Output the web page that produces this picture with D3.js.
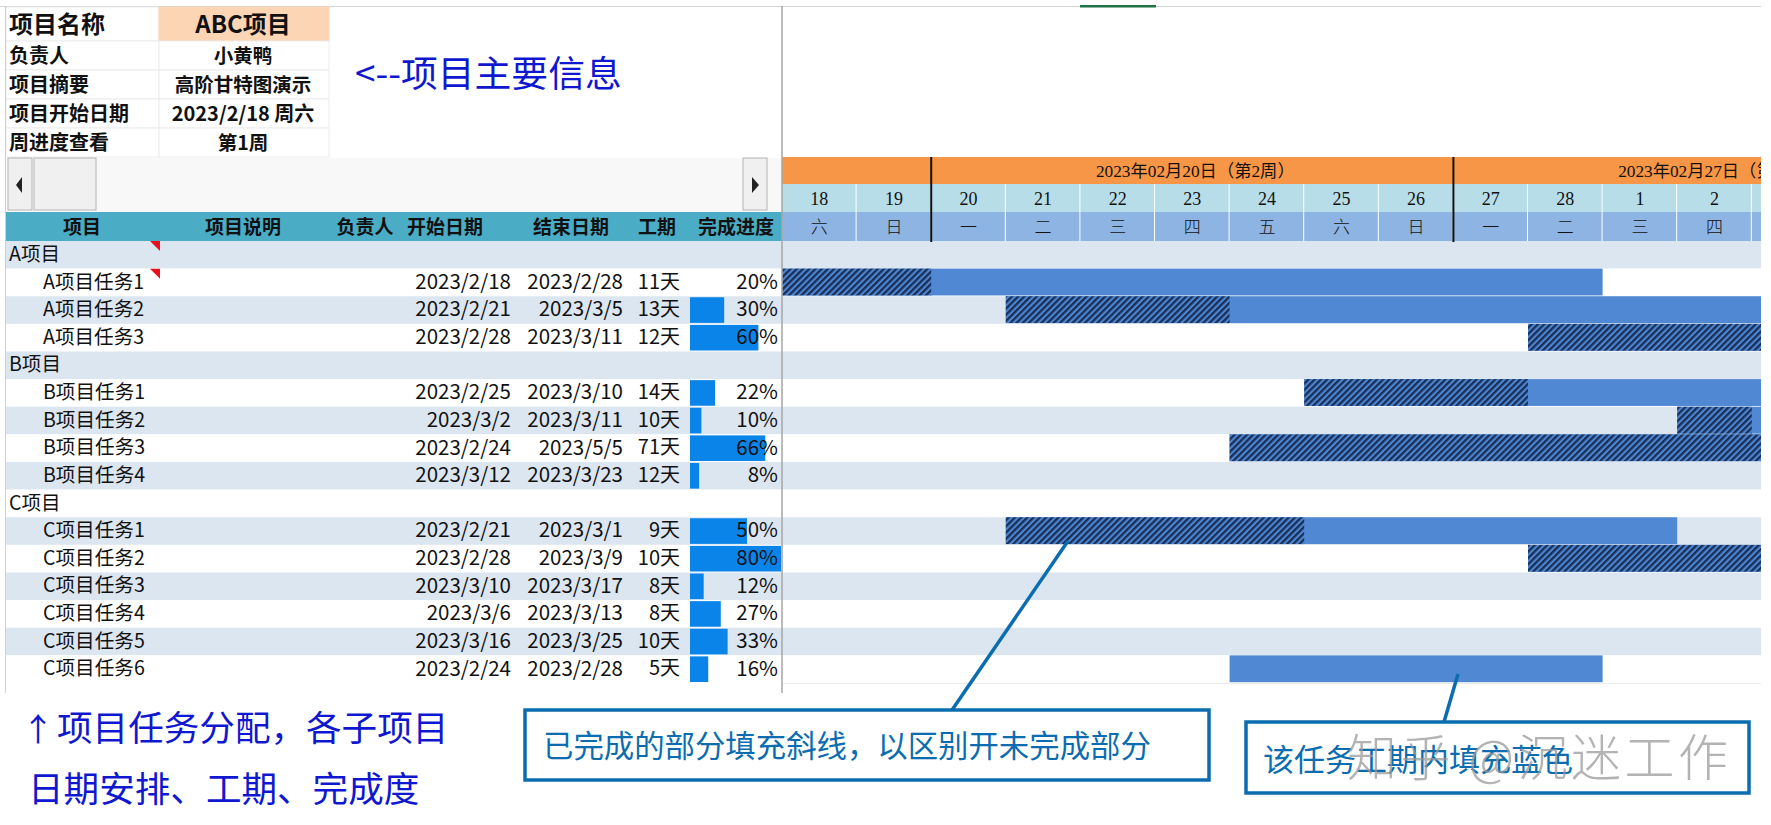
<!DOCTYPE html>
<html>
<head>
<meta charset="utf-8">
<script src="https://cdn.jsdelivr.net/npm/d3@7"></script>
<style>
  body { margin: 0; background: #fff; }
  text { font-family: "Noto Sans CJK SC", "Noto Sans", sans-serif; fill: #111; }
  .serif { font-family: "Liberation Serif", "Noto Sans CJK SC", serif; }
</style>
</head>
<body>
<div id="chart-area"></div>
<script>
var infoLabels = ["项目名称", "负责人", "项目摘要", "项目开始日期", "周进度查看"];
var infoValues = ["ABC项目", "小黄鸭", "高阶甘特图演示", "2023/2/18 周六", "第1周"];

var columnNames = ["项目", "项目说明", "负责人", "开始日期", "结束日期", "工期", "完成进度"];

var rowNames = ["A项目", "A项目任务1", "A项目任务2", "A项目任务3", "B项目", "B项目任务1", "B项目任务2", "B项目任务3", "B项目任务4",
    "C项目", "C项目任务1", "C项目任务2", "C项目任务3", "C项目任务4", "C项目任务5", "C项目任务6"];
var startDates = [null, "2023/2/18", "2023/2/21", "2023/2/28", null, "2023/2/25", "2023/3/2", "2023/2/24", "2023/3/12",
    null, "2023/2/21", "2023/2/28", "2023/3/10", "2023/3/6", "2023/3/16", "2023/2/24"];
var endDates = [null, "2023/2/28", "2023/3/5", "2023/3/11", null, "2023/3/10", "2023/3/11", "2023/5/5", "2023/3/23",
    null, "2023/3/1", "2023/3/9", "2023/3/17", "2023/3/13", "2023/3/25", "2023/2/28"];
var durations = [null, 11, 13, 12, null, 14, 10, 71, 12, null, 9, 10, 8, 8, 10, 5];
var progress = [null, 20, 30, 60, null, 22, 10, 66, 8, null, 50, 80, 12, 27, 33, 16];
var barProgress = [0, 0, 30, 60, 0, 22, 10, 66, 8, 0, 50, 80, 12, 27, 33, 16];
var doneDays = [0, 2, 3, 7, 0, 3, 1, 46, 0, 0, 4, 8, 0, 2, 3, 0];

var dayLabels = ["18", "19", "20", "21", "22", "23", "24", "25", "26", "27", "28", "1", "2", "3"];
var weekLabels = ["六", "日", "一", "二", "三", "四", "五", "六", "日", "一", "二", "三", "四", "五"];
var weekStarts = ["2023/2/20", "2023/2/27"];
var weekTitles = ["2023年02月20日（第2周）", "2023年02月27日（第3周）"];

var width = 1771, height = 825;
var left = 6, split = 782, right = 1761;

var svg = d3.select("#chart-area")
    .append("svg")
        .attr("width", width)
        .attr("height", height)
        .style("display", "block");

var parse = function(s) {
    var p = s.split("/");
    return new Date(Date.UTC(+p[0], +p[1] - 1, +p[2]));
};
var addDays = function(d, n) {
    return new Date(d.getTime() + n * 86400000);
};

var x = d3.scaleUtc()
    .domain([parse("2023/2/18"), parse("2023/3/4")])
    .range([split, split + 14 * 74.6]);

var y = d3.scaleBand()
    .domain(rowNames)
    .range([241, 683]);

var infoY = d3.scaleOrdinal()
    .domain(infoLabels)
    .range([7, 41, 70, 99, 128]);
var infoH = [34, 29, 29, 29, 29];

var progressX = d3.scaleLinear().domain([0, 100]).range([690, 804]);

var defs = svg.append("defs");
defs.append("clipPath").attr("id", "gantt-clip")
    .append("rect")
        .attr("x", split).attr("y", 0)
        .attr("width", right - split).attr("height", height);
defs.append("clipPath").attr("id", "table-clip")
    .append("rect")
        .attr("x", left).attr("y", 0)
        .attr("width", split - left).attr("height", height);
var hatch = defs.append("pattern")
    .attr("id", "hatch")
    .attr("patternUnits", "userSpaceOnUse")
    .attr("width", 4.4).attr("height", 4.4)
    .attr("patternTransform", "rotate(45)");
hatch.append("rect").attr("width", 4.4).attr("height", 4.4).attr("fill", "#4f86cf");
hatch.append("rect").attr("width", 2.3).attr("height", 4.4).attr("fill", "#172f5a");

// top sheet edge
svg.append("line").attr("x1", 0).attr("x2", right).attr("y1", 6.5).attr("y2", 6.5)
    .attr("stroke", "#d4d4d4");
svg.append("rect").attr("x", 1080).attr("y", 5).attr("width", 76).attr("height", 2.5).attr("fill", "#217346");

// info table
var info = svg.append("g");
infoLabels.forEach(function(d, i) {
    info.append("rect").attr("x", left).attr("y", infoY(d)).attr("width", 153).attr("height", infoH[i])
        .attr("fill", "#fff").attr("stroke", "#ececec");
    info.append("rect").attr("x", 159).attr("y", infoY(d)).attr("width", 170).attr("height", infoH[i])
        .attr("fill", i == 0 ? "#fcd5b4" : "#fff").attr("stroke", i == 0 ? "#fcd5b4" : "#ececec");
    info.append("text").attr("x", 9).attr("y", infoY(d) + infoH[i] / 2)
        .attr("dy", "0.36em")
        .attr("font-size", i == 0 ? "24px" : "20px")
        .attr("font-weight", "bold")
        .text(d);
    info.append("text").attr("x", 243).attr("y", infoY(d) + infoH[i] / 2)
        .attr("dy", "0.36em")
        .attr("text-anchor", "middle")
        .attr("font-size", i == 0 ? "24px" : i == 3 ? "20px" : "19.5px")
        .attr("font-weight", "bold")
        .text(infoValues[i]);
});

// scrollbar
svg.append("rect").attr("x", left).attr("y", 158).attr("width", split - left).attr("height", 54).attr("fill", "#f8f8f8");
[[8, 24], [34, 62], [743, 24]].forEach(function(b) {
    svg.append("rect").attr("x", b[0]).attr("y", 158).attr("width", b[1]).attr("height", 52)
        .attr("fill", "#f0f0f0").attr("stroke", "#b4b4b4");
});
svg.append("path").attr("d", "M16,185 L22,177 L22,193 Z").attr("fill", "#222");
svg.append("path").attr("d", "M752,177 L759,185 L752,193 Z").attr("fill", "#222");

// row stripes
svg.selectAll("rect.stripe")
    .data(rowNames)
    .enter()
    .append("rect")
        .attr("class", "stripe")
        .attr("x", left)
        .attr("y", function(d) { return y(d); })
        .attr("width", right - left)
        .attr("height", y.bandwidth())
        .attr("fill", function(d, i) { return i % 2 == 0 ? "#dce6f1" : "#fff"; });
svg.append("line").attr("x1", split).attr("x2", right).attr("y1", 683.5).attr("y2", 683.5).attr("stroke", "#ebebeb");

// table header
svg.append("rect").attr("x", left).attr("y", 212).attr("width", split - left).attr("height", 29).attr("fill", "#4bacc6");
var columnX = [82, 243, 365, 445, 571, 657, 736];
svg.selectAll("text.col")
    .data(columnNames)
    .enter()
    .append("text")
        .attr("class", "col")
        .attr("x", function(d, i) { return columnX[i]; })
        .attr("y", 227)
        .attr("dy", "0.36em")
        .attr("text-anchor", "middle")
        .attr("font-size", "19px")
        .attr("font-weight", "bold")
        .text(function(d) { return d; });

// progress bars
svg.append("g").attr("clip-path", "url(#table-clip)")
    .selectAll("rect")
    .data(rowNames)
    .enter()
    .append("rect")
        .attr("x", progressX(0))
        .attr("y", function(d) { return y(d) + 1; })
        .attr("width", function(d, i) { return progressX(barProgress[i]) - progressX(0); })
        .attr("height", y.bandwidth() - 2)
        .attr("fill", "#0a84e8");

// table rows
var rows = svg.selectAll("g.row")
    .data(rowNames)
    .enter()
    .append("g")
        .attr("class", "row")
        .attr("transform", function(d) { return "translate(0, " + (y(d) + y.bandwidth() / 2 - 1) + ")"; });
rows.append("text")
    .attr("x", function(d, i) { return durations[i] === null ? 9 : 43; })
    .attr("dy", "0.36em")
    .attr("font-size", "19.6px")
    .text(function(d) { return d; });
rows.append("text")
    .attr("x", 511).attr("dy", "0.36em").attr("text-anchor", "end").attr("font-size", "20.5px")
    .text(function(d, i) { return startDates[i]; });
rows.append("text")
    .attr("x", 623).attr("dy", "0.36em").attr("text-anchor", "end").attr("font-size", "20.5px")
    .text(function(d, i) { return endDates[i]; });
rows.append("text")
    .attr("x", 680).attr("dy", "0.36em").attr("text-anchor", "end").attr("font-size", "20px")
    .text(function(d, i) { return durations[i] === null ? "" : durations[i] + "天"; });
rows.append("text")
    .attr("x", 778).attr("dy", "0.36em").attr("text-anchor", "end").attr("font-size", "20.5px")
    .text(function(d, i) { return progress[i] === null ? "" : progress[i] + "%"; });

// red comment corners
["A项目", "A项目任务1"].forEach(function(d) {
    svg.append("path")
        .attr("d", "M150," + y(d) + " L160," + y(d) + " L160," + (y(d) + 10) + " Z")
        .attr("fill", "#e8101c");
});

// gantt header
var gantt = svg.append("g").attr("clip-path", "url(#gantt-clip)");
var days = d3.range(dayLabels.length).map(function(i) { return addDays(x.domain()[0], i); });

gantt.append("rect").attr("x", split).attr("y", 157).attr("width", right - split).attr("height", 27).attr("fill", "#f79646");
gantt.selectAll("rect.day")
    .data(days)
    .enter()
    .append("rect")
        .attr("class", "day")
        .attr("x", function(d) { return x(d); })
        .attr("y", 184)
        .attr("width", function(d) { return x(addDays(d, 1)) - x(d) - 1; })
        .attr("height", 28)
        .attr("fill", "#b7dde8");
gantt.selectAll("rect.wk")
    .data(days)
    .enter()
    .append("rect")
        .attr("class", "wk")
        .attr("x", function(d) { return x(d); })
        .attr("y", 212)
        .attr("width", function(d) { return x(addDays(d, 1)) - x(d) - 1; })
        .attr("height", 29)
        .attr("fill", "#8db4e2");
gantt.selectAll("text.day")
    .data(days)
    .enter()
    .append("text")
        .attr("class", "day serif")
        .attr("x", function(d) { return x(addDays(d, 0.5)); })
        .attr("y", 199)
        .attr("dy", "0.36em")
        .attr("text-anchor", "middle")
        .attr("font-size", "18px")
        .text(function(d, i) { return dayLabels[i]; });
gantt.selectAll("text.wk")
    .data(days)
    .enter()
    .append("text")
        .attr("class", "wk serif")
        .attr("x", function(d) { return x(addDays(d, 0.5)); })
        .attr("y", 227)
        .attr("dy", "0.36em")
        .attr("text-anchor", "middle")
        .attr("font-size", "17px")
        .attr("font-weight", "300")
        .text(function(d, i) { return weekLabels[i]; });
gantt.selectAll("text.week")
    .data(weekStarts)
    .enter()
    .append("text")
        .attr("class", "week serif")
        .attr("x", function(d) { return x(addDays(parse(d), 3.5)) + 3; })
        .attr("y", 171)
        .attr("dy", "0.36em")
        .attr("text-anchor", "middle")
        .attr("font-size", "17.3px")
        .text(function(d, i) { return weekTitles[i]; });
gantt.selectAll("line.week")
    .data(weekStarts)
    .enter()
    .append("line")
        .attr("class", "week")
        .attr("x1", function(d) { return x(parse(d)); })
        .attr("x2", function(d) { return x(parse(d)); })
        .attr("y1", 157)
        .attr("y2", 242)
        .attr("stroke", "#111")
        .attr("stroke-width", 2);

// gantt bars, whole span then the finished part on top
var taskIdx = d3.range(rowNames.length).filter(function(i) { return startDates[i] !== null; });
gantt.selectAll("rect.span")
    .data(taskIdx)
    .enter()
    .append("rect")
        .attr("class", "span")
        .attr("x", function(i) { return x(parse(startDates[i])); })
        .attr("y", function(i) { return y(rowNames[i]); })
        .attr("width", function(i) { return x(addDays(parse(endDates[i]), 1)) - x(parse(startDates[i])); })
        .attr("height", y.bandwidth() - 0.8)
        .attr("fill", "#5088d3");
gantt.selectAll("rect.done")
    .data(taskIdx)
    .enter()
    .append("rect")
        .attr("class", "done")
        .attr("x", function(i) { return x(parse(startDates[i])); })
        .attr("y", function(i) { return y(rowNames[i]); })
        .attr("width", function(i) { return x(addDays(parse(startDates[i]), doneDays[i])) - x(parse(startDates[i])); })
        .attr("height", y.bandwidth() - 0.8)
        .attr("fill", "url(#hatch)");

// pane divider
svg.append("line").attr("x1", split).attr("x2", split).attr("y1", 6).attr("y2", 693)
    .attr("stroke", "#a6a6a6").attr("stroke-width", 1.5);
svg.append("line").attr("x1", 5.5).attr("x2", 5.5).attr("y1", 6).attr("y2", 693)
    .attr("stroke", "#d0d0d0");

// notes
svg.append("text").attr("x", 22).attr("y", 741).attr("font-size", "32px").style("fill", "#0f18d0").text("↑");
svg.append("text").attr("x", 355).attr("y", 87).attr("font-size", "36.8px").style("fill", "#0f18d0").text("<--项目主要信息");
svg.append("text").attr("x", 57).attr("y", 741).attr("font-size", "35.6px").style("fill", "#0f18d0").text("项目任务分配，各子项目");
svg.append("text").attr("x", 28).attr("y", 802).attr("font-size", "35.6px").style("fill", "#0f18d0").text("日期安排、工期、完成度");

var callouts = [
    { x: 525, y: 710, w: 684, h: 70, tx: 543, ty: 757, fs: 30.4, label: "已完成的部分填充斜线，以区别开未完成部分", from: [1068, 541], to: [952, 710] },
    { x: 1246, y: 722, w: 503, h: 71, tx: 1263, ty: 771, fs: 31, label: "该任务工期内填充蓝色", from: [1458, 674], to: [1444, 722] }
];
callouts.forEach(function(c) {
    svg.append("line").attr("x1", c.from[0]).attr("y1", c.from[1]).attr("x2", c.to[0]).attr("y2", c.to[1])
        .attr("stroke", "#0b6db0").attr("stroke-width", 3.5);
    svg.append("rect").attr("x", c.x).attr("y", c.y).attr("width", c.w).attr("height", c.h)
        .attr("fill", "#fff").attr("stroke", "#0b6db0").attr("stroke-width", 3.5);
    svg.append("text").attr("x", c.tx).attr("y", c.ty).attr("font-size", c.fs + "px").style("fill", "#0b6db0").text(c.label);
});

// watermark
svg.append("text").attr("x", 1347).attr("y", 776).attr("font-size", "50px").attr("font-weight", "300")
    .attr("letter-spacing", "3.5px")
    .style("fill", "#9a9a9a").style("opacity", 0.75).text("知乎 @沉迷工作");
</script>
</body>
</html>
